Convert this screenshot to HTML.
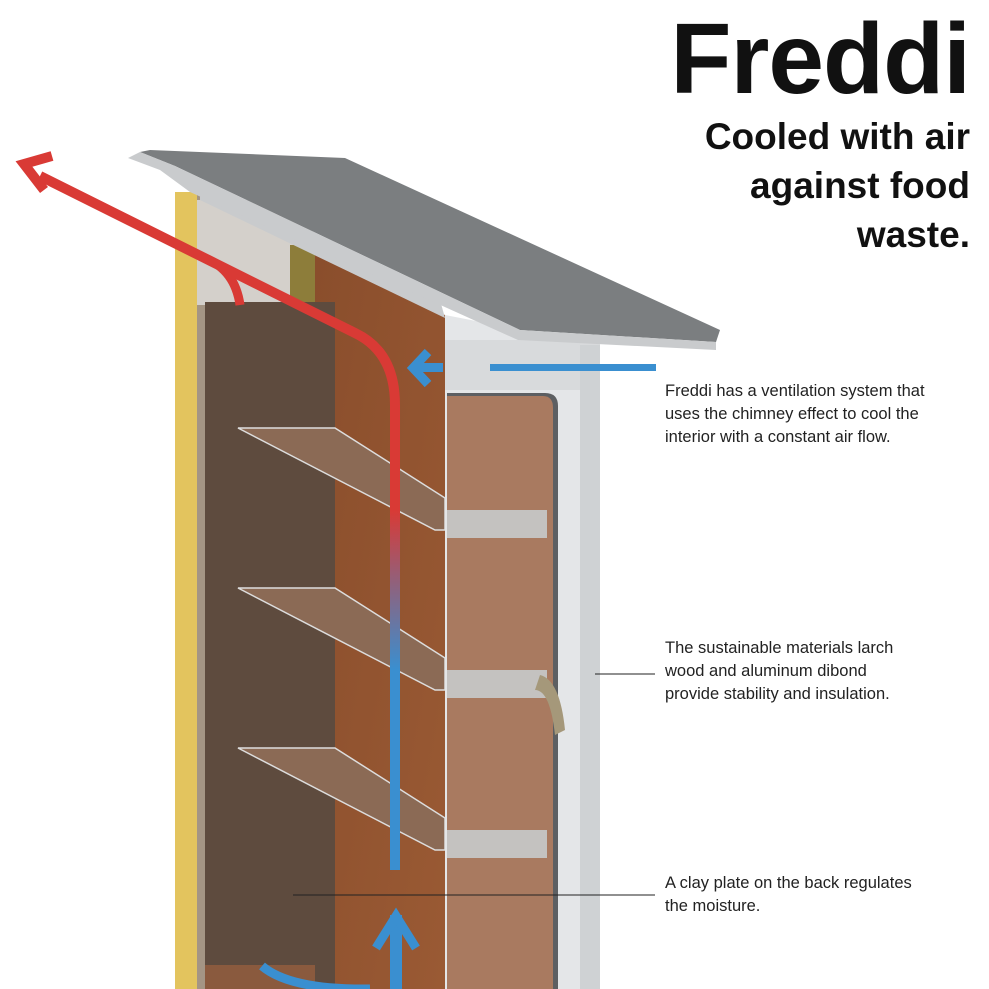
<!DOCTYPE html>
<html><head><style>
html,body{margin:0;padding:0;background:#fff;}
body{width:989px;height:989px;position:relative;overflow:hidden;font-family:"Liberation Sans",sans-serif;}
.t{position:absolute;right:19px;text-align:right;font-weight:bold;color:#111;}
.b{position:absolute;left:665px;font-size:16.5px;line-height:23px;color:#222;}
</style></head><body>
<svg width="989" height="989" style="position:absolute;left:0;top:0">
<defs>
<linearGradient id="rb" x1="0" y1="0" x2="0" y2="1"><stop offset="0" stop-color="#d93a35"/><stop offset="1" stop-color="#3a8fd0"/></linearGradient>
<linearGradient id="wood" x1="0" y1="0" x2="1" y2="1"><stop offset="0" stop-color="#8a4e2c"/><stop offset="1" stop-color="#9a5a34"/></linearGradient>
</defs>
<rect x="175" y="192" width="22" height="797" fill="#e3c45e"/>
<rect x="197" y="195" width="10" height="794" fill="#a49584"/>
<polygon points="197,200 300,200 320,250 320,305 197,305" fill="#d4d0cb"/>
<rect x="290" y="245" width="30" height="65" fill="#8d7d3a"/>
<polygon points="315,255 445,315 445,989 315,989" fill="url(#wood)"/>
<rect x="205" y="302" width="130" height="687" fill="#5e4b3e"/>
<rect x="205" y="965" width="110" height="24" fill="#8a5a3e"/>
<g fill="#8b6a55" stroke="#ddd" stroke-width="1.5">
<polygon points="238,428 335,428 445,498 445,530 435,530"/>
<polygon points="238,588 335,588 445,658 445,690 435,690"/>
<polygon points="238,748 335,748 445,818 445,850 435,850"/>
</g>
<polygon points="445,315 600,345 600,989 445,989" fill="#e4e6e8"/>
<rect x="445" y="340" width="155" height="50" fill="#d8dadc"/>
<rect x="580" y="345" width="20" height="644" fill="#cfd2d4"/>
<path d="M447,393 H545 Q558,393 558,406 V989 H447 Z" fill="#5d5f62"/>
<path d="M447,396 H543 Q553,396 553,408 V989 H447 Z" fill="#a97a60"/>
<rect x="447" y="510" width="100" height="28" fill="#c4c2c0"/>
<rect x="447" y="670" width="100" height="28" fill="#c4c2c0"/>
<rect x="447" y="830" width="100" height="28" fill="#c4c2c0"/>
<path d="M540,675 Q560,680 565,730 L555,735 Q550,690 535,690 Z" fill="#a5987a"/>
<!-- roof -->
<polygon points="200,188 440,300 445,318 200,200" fill="#c9cbcd"/>
<polygon points="140,152 150,150 345,158 720,330 716,342 520,330 175,166" fill="#7b7e80"/>
<polygon points="128,158 140,152 175,166 520,330 716,342 716,350 518,340 190,192 160,170" fill="#c9cbcd"/>
<!-- red arrow -->
<path d="M40,176 L355,333 Q395,352 395,405 L395,510" fill="none" stroke="#d93a35" stroke-width="10"/>
<path d="M205,258 Q235,270 240,305" fill="none" stroke="#d93a35" stroke-width="9"/>
<path d="M52,156 L24,164 L44,190" stroke="#d93a35" stroke-width="10" fill="none" stroke-linejoin="miter"/>
<rect x="390" y="510" width="10" height="160" fill="url(#rb)"/>
<rect x="390" y="670" width="10" height="200" fill="#3a8fd0"/>
<rect x="490" y="364" width="166" height="7" fill="#3a8fd0"/>
<rect x="418" y="363" width="25" height="9" fill="#3a8fd0"/>
<path d="M428,352 L413,368 L428,384" stroke="#3a8fd0" stroke-width="9" fill="none"/>
<rect x="390" y="915" width="12" height="74" fill="#3a8fd0"/>
<path d="M376,948 L396,916 L416,948" stroke="#3a8fd0" stroke-width="9" fill="none"/>
<path d="M262,966 Q290,990 370,989" stroke="#3a8fd0" stroke-width="9" fill="none"/>
<line x1="595" y1="674" x2="655" y2="674" stroke="#222" stroke-width="1"/>
<line x1="293" y1="895" x2="655" y2="895" stroke="#222" stroke-width="1"/>
</svg>
<div class="t" style="top:4px;font-size:100px;line-height:110px;letter-spacing:-1px">Freddi</div>
<div class="t" style="top:112px;font-size:37px;line-height:49px">Cooled with air<br>against food<br>waste.</div>
<div class="b" style="top:380px">Freddi has a ventilation system that<br>uses the chimney effect to cool the<br>interior with a constant air flow.</div>
<div class="b" style="top:637px">The sustainable materials larch<br>wood and aluminum dibond<br>provide stability and insulation.</div>
<div class="b" style="top:872px">A clay plate on the back regulates<br>the moisture.</div>
</body></html>
